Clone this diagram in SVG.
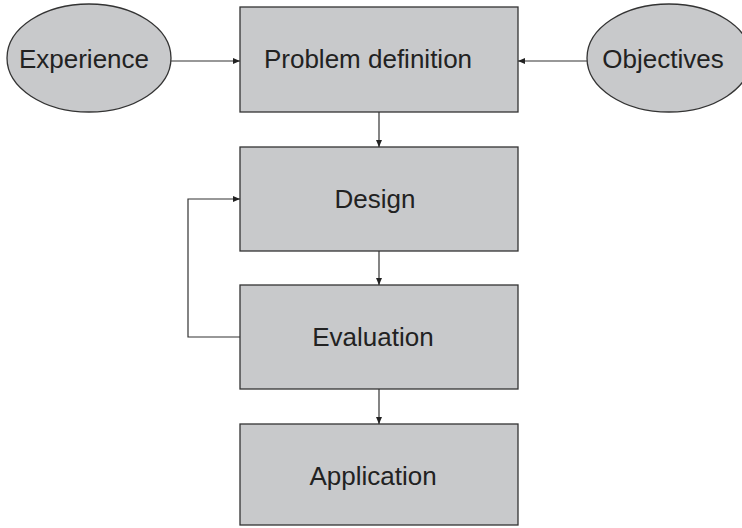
<svg xmlns="http://www.w3.org/2000/svg" width="742" height="528" viewBox="0 0 742 528">
<defs>
<marker id="arr" markerWidth="8" markerHeight="8" refX="7" refY="4" orient="auto" markerUnits="userSpaceOnUse">
<path d="M0,1 L7,4 L0,7 Z" fill="#222"/>
</marker>
<style>
.box{fill:#c8c9cb;stroke:#333;stroke-width:1.3}
.lbl{font-family:"Liberation Sans",Arial,sans-serif;font-size:26px;fill:#222;text-anchor:middle}
.con{fill:none;stroke:#333;stroke-width:1.2;marker-end:url(#arr)}
</style>
</defs>
<rect width="742" height="528" fill="#fff"/>
<g id="experience"><ellipse class="box" cx="89" cy="58" rx="82" ry="54"/><text class="lbl" x="84" y="68">Experience</text></g>
<g id="objectives"><ellipse class="box" cx="669" cy="58" rx="82" ry="54"/><text class="lbl" x="663" y="68">Objectives</text></g>
<g id="problem"><rect class="box" x="240" y="7" width="278" height="105"/><text class="lbl" x="368" y="68">Problem definition</text></g>
<g id="design"><rect class="box" x="240" y="147" width="278" height="104"/><text class="lbl" x="375" y="208">Design</text></g>
<g id="evaluation"><rect class="box" x="240" y="285" width="278" height="104"/><text class="lbl" x="373" y="346">Evaluation</text></g>
<g id="application"><rect class="box" x="240" y="424" width="278" height="101"/><text class="lbl" x="373" y="485">Application</text></g>
<g id="connectors">
<path class="con" d="M171,61 H240"/>
<path class="con" d="M587,61 H518"/>
<path class="con" d="M379,112 V147"/>
<path class="con" d="M379,251 V285"/>
<path class="con" d="M379,389 V424"/>
<path class="con" d="M240,337 H188 V199 H240"/>
</g>
</svg>
